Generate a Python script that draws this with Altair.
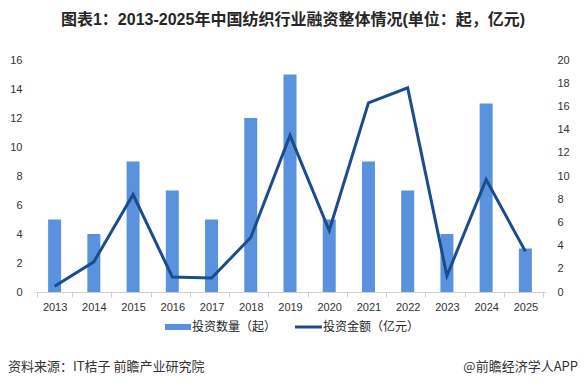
import altair as alt
import pandas as pd

years = ["2013", "2014", "2015", "2016", "2017", "2018", "2019",
         "2020", "2021", "2022", "2023", "2024", "2025"]
deal_counts = [5, 4, 9, 7, 5, 12, 15, 5, 9, 7, 4, 13, 3]
amounts = [0.5, 2.6, 8.4, 1.3, 1.2, 4.7, 13.5, 5.3, 16.3, 17.6, 1.4, 9.7, 3.5]

title_text = "图表1：2013-2025年中国纺织行业融资整体情况(单位：起，亿元)"
legend_labels = ["投资数量（起）", "投资金额（亿元）"]
source_text = "资料来源：IT桔子 前瞻产业研究院"
brand_text = "@前瞻经济学人APP"

df = pd.DataFrame({"year": years, "count": deal_counts, "amount": amounts})

BAR = "#5A92DF"
LINE = "#1D4C8C"
FONT = "Liberation Sans, Noto Sans CJK SC, sans-serif"
CJK = "Noto Sans CJK SC, sans-serif"

W, H = 510, 232

x_enc = alt.X("year:O", title=None,
              axis=alt.Axis(labelAngle=0, domainColor="#D0D0D0", tickColor="#D0D0D0",
                            tickSize=5, tickBand="extent", labelPadding=4,
                            labelFontSize=11, labelColor="#333333", labelFont=FONT))

bars = alt.Chart(df).mark_bar(size=13, color=BAR).encode(
    x=x_enc,
    y=alt.Y("count:Q", title=None, scale=alt.Scale(domain=[0, 16], nice=False),
            axis=alt.Axis(orient="left", values=list(range(0, 17, 2)), grid=False,
                          domain=False, ticks=False, labelPadding=13,
                          labelFontSize=11, labelColor="#333333", labelFont=FONT)),
)

line = alt.Chart(df).mark_line(color=LINE, strokeWidth=3).encode(
    x=alt.X("year:O"),
    y=alt.Y("amount:Q", title=None, scale=alt.Scale(domain=[0, 20], nice=False),
            axis=alt.Axis(orient="right", values=list(range(0, 21, 2)), grid=False,
                          domain=False, ticks=False, labelPadding=12,
                          labelFontSize=11, labelColor="#333333", labelFont=FONT)),
)

title = alt.Chart(pd.DataFrame({"t": [title_text]})).mark_text(
    font=FONT, fontSize=16, fontWeight="bold", color="#262626", align="center", baseline="middle"
).encode(text="t:N", x=alt.value(258), y=alt.value(-40))

leg_df = pd.DataFrame({"t": [legend_labels[0]]})
leg_rect = alt.Chart(leg_df).mark_rect(color=BAR).encode(
    x=alt.value(130), x2=alt.value(156), y=alt.value(264), y2=alt.value(270))
leg_t1 = alt.Chart(leg_df).mark_text(font=CJK, fontSize=12, color="#262626", align="left", baseline="middle").encode(
    text="t:N", x=alt.value(157), y=alt.value(267))
leg_df2 = pd.DataFrame({"t": [legend_labels[1]]})
leg_rule = alt.Chart(leg_df2).mark_rule(color=LINE, strokeWidth=3).encode(
    x=alt.value(260), x2=alt.value(287), y=alt.value(267))
leg_t2 = alt.Chart(leg_df2).mark_text(font=CJK, fontSize=12, color="#262626", align="left", baseline="middle").encode(
    text="t:N", x=alt.value(288), y=alt.value(267))

src = alt.Chart(pd.DataFrame({"t": [source_text]})).mark_text(
    font=CJK, fontSize=13, color="#333333", align="left", baseline="middle"
).encode(text="t:N", x=alt.value(-27), y=alt.value(307))
brand = alt.Chart(pd.DataFrame({"t": [brand_text]})).mark_text(
    font=CJK, fontSize=13, color="#333333", align="right", baseline="middle"
).encode(text="t:N", x=alt.value(543), y=alt.value(307))

chart = alt.layer(bars, line, title, leg_rect, leg_t1, leg_rule, leg_t2, src, brand).resolve_scale(
    y="independent"
).properties(
    width=W, height=H,
    background="white",
    autosize=alt.AutoSizeParams(type="none"),
    padding={"left": 27, "top": 52, "right": 34, "bottom": 82},
).configure_view(stroke=None, strokeWidth=0)

chart.save("out.html", embed_options={"renderer": "svg", "actions": False})
